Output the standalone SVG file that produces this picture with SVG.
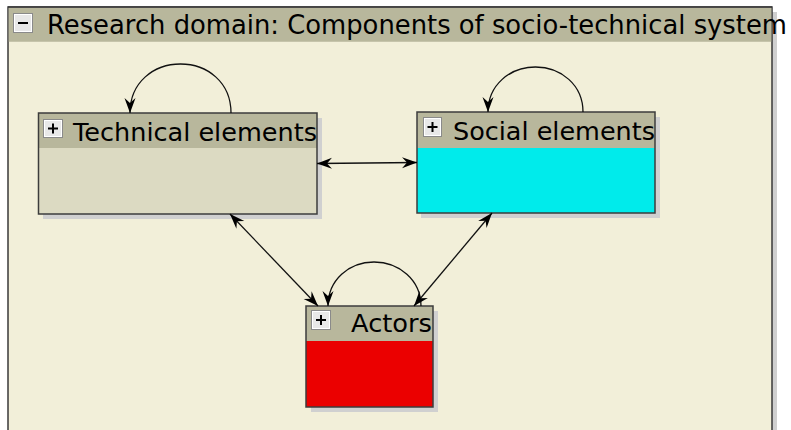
<svg xmlns="http://www.w3.org/2000/svg" width="791" height="430" viewBox="0 0 791 430">
  <defs>
    <marker id="arrow" viewBox="0 0 16 12" refX="15" refY="6" markerWidth="16" markerHeight="12" markerUnits="userSpaceOnUse" orient="auto-start-reverse">
      <path d="M0,0.5 L15,6 L0,11.5 L5,6 Z" fill="#000"/>
    </marker>
  </defs>
  <style>
    .frame { fill: #f2efd9; stroke: #3a3a3a; stroke-width: 1.5; }
    .shadow { fill: #d0d0d0; }
    .header { fill: #b8b79c; }
    .box { fill: none; stroke: #3c3c3c; stroke-width: 1.5; }
    .label { font-family: "DejaVu Sans", "Noto Sans", sans-serif; fill: #000; }
    .btn { fill: #e8e8e8; stroke: #8a8a8a; stroke-width: 1; }
    .btn-in { fill: none; stroke: #ffffff; stroke-width: 1; }
    .glyph { stroke: #000; stroke-width: 2; fill: none; }
    .edge { fill: none; stroke: #111; stroke-width: 1.3; }
  </style>

  <!-- outer package frame -->
  <g id="domain">
    <rect class="shadow" x="772" y="12" width="5" height="430"/>
    <rect class="frame" x="8" y="7" width="764" height="430"/>
    <rect class="header" x="8.75" y="7.75" width="762.5" height="34"/>
    <line x1="8" y1="7" x2="772" y2="7" stroke="#3a3a3a" stroke-width="1.5"/>
    <rect class="btn" x="13.5" y="13.5" width="19" height="19"/>
    <rect class="btn-in" x="14.5" y="14.5" width="17" height="17"/>
    <line class="glyph" x1="18" y1="23" x2="28" y2="23"/>
    <text class="label" x="47" y="34" font-size="26" textLength="740" lengthAdjust="spacingAndGlyphs">Research domain: Components of socio-technical system</text>
  </g>

  <!-- Technical elements -->
  <g id="technical">
    <rect class="shadow" x="43" y="118" width="279" height="101"/>
    <rect x="38.5" y="113" width="278.5" height="101" fill="#dcdac2"/>
    <rect class="header" x="38.5" y="113" width="278.5" height="35"/>
    <rect class="box" x="38.5" y="113" width="278.5" height="101"/>
    <rect class="btn" x="43.5" y="119.5" width="19" height="18"/>
    <rect class="btn-in" x="44.5" y="120.5" width="17" height="16"/>
    <line class="glyph" x1="48" y1="128.5" x2="58" y2="128.5"/>
    <line class="glyph" x1="53" y1="123.5" x2="53" y2="133.5"/>
    <text class="label" x="73" y="141" font-size="25" textLength="244" lengthAdjust="spacingAndGlyphs">Technical elements</text>
  </g>

  <!-- Social elements -->
  <g id="social">
    <rect class="shadow" x="421" y="117" width="239" height="101"/>
    <rect x="417" y="112" width="238" height="101" fill="#00ebeb"/>
    <rect class="header" x="417" y="112" width="238" height="36"/>
    <rect class="box" x="417" y="112" width="238" height="101"/>
    <rect class="btn" x="423.5" y="117.5" width="18" height="19"/>
    <rect class="btn-in" x="424.5" y="118.5" width="16" height="17"/>
    <line class="glyph" x1="427.5" y1="127" x2="437.5" y2="127"/>
    <line class="glyph" x1="432.5" y1="122" x2="432.5" y2="132"/>
    <text class="label" x="453" y="140" font-size="25" textLength="202" lengthAdjust="spacingAndGlyphs">Social elements</text>
  </g>

  <!-- Actors -->
  <g id="actors">
    <rect class="shadow" x="311" y="311" width="127" height="101"/>
    <rect x="306" y="306" width="127" height="101" fill="#eb0000"/>
    <rect class="header" x="306" y="306" width="127" height="35"/>
    <rect class="box" x="306" y="306" width="127" height="101"/>
    <rect class="btn" x="311.5" y="310.5" width="19" height="19"/>
    <rect class="btn-in" x="312.5" y="311.5" width="17" height="17"/>
    <line class="glyph" x1="316" y1="320" x2="326" y2="320"/>
    <line class="glyph" x1="321" y1="315" x2="321" y2="325"/>
    <text class="label" x="351" y="332" font-size="25" textLength="81" lengthAdjust="spacingAndGlyphs">Actors</text>
  </g>

  <!-- connectors -->
  <g id="connectors">
    <path class="edge" d="M231,113 C231,82 207,64 180.5,64 C154,64 130,82 130,113" marker-end="url(#arrow)"/>
    <path class="edge" d="M583,112 C583,85 561,67 535.5,67 C510,67 488,85 488,112" marker-end="url(#arrow)"/>
    <path class="edge" d="M421,306 C421,280 399,262 374,262 C349,262 328,280 328,306" marker-end="url(#arrow)"/>
    <line class="edge" x1="317" y1="163.5" x2="417" y2="162.5" marker-start="url(#arrow)" marker-end="url(#arrow)"/>
    <line class="edge" x1="230" y1="214" x2="318" y2="306" marker-start="url(#arrow)" marker-end="url(#arrow)"/>
    <line class="edge" x1="492" y1="213" x2="414" y2="306" marker-start="url(#arrow)" marker-end="url(#arrow)"/>
  </g>
</svg>
